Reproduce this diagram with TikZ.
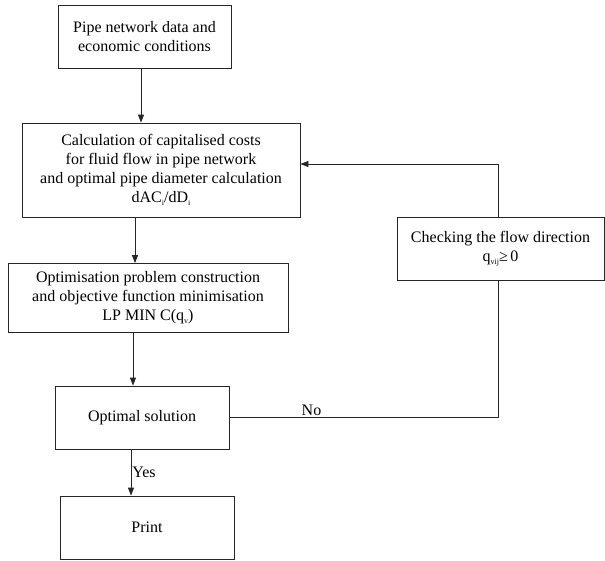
\documentclass[tikz,border=0pt]{standalone}
\usepackage{fontspec}
\setmainfont{Liberation Serif}
\usetikzlibrary{arrows.meta}
\newcommand{\mysub}[1]{\raisebox{-0.35ex}{\fontsize{8}{8}\selectfont #1}}
\begin{document}
\begin{tikzpicture}[x=1pt,y=-1pt,
  box/.style={draw=black!85, line width=0.8pt, inner sep=0pt, align=center,
    font=\fontsize{16}{19}\selectfont},
  arr/.style={draw=black!85, line width=0.8pt, -{Triangle[length=8pt,width=6pt]}},
  ln/.style={draw=black!85, line width=0.8pt},
  lbl/.style={font=\fontsize{16}{19}\selectfont, inner sep=1pt}]
\useasboundingbox (0,0) rectangle (605,560);
\node[box, minimum width=173pt, minimum height=63pt] (b1) at (144.5,36.5)
  {Pipe network data and\\economic conditions};
\node[box, minimum width=278pt, minimum height=94pt] (b2) at (161,170)
  {Calculation of capitalised costs\\for fluid flow in pipe network\\and optimal pipe diameter calculation\\dAC\mysub{i}/dD\mysub{i}};
\node[box, minimum width=280pt, minimum height=69pt] (b3) at (148,298)
  {Optimisation problem construction\\and objective function minimisation\\LP MIN C(q\mysub{v})};
\node[box, minimum width=174pt, minimum height=63pt] (b4) at (142,417.5)
  {Optimal solution};
\node[box, minimum width=174pt, minimum height=63pt] (b5) at (147,527.5)
  {Print};
\node[box, minimum width=207pt, minimum height=63pt] (chk) at (500.5,248.5)
  {Checking the flow direction\\q\mysub{vij}≥\,0};
\coordinate (cx) at (498.5,0);
\coordinate (top) at (0,164);
\draw[arr] ([xshift=-3.5pt]b1.south) coordinate (t1) -- (t1 |- b2.north);
\draw[arr] ([xshift=-26pt]b2.south) coordinate (t2) -- (t2 |- b3.north);
\draw[arr] ([xshift=-15pt]b3.south) coordinate (t3) -- (t3 |- b4.north);
\draw[arr] ([xshift=-11pt]b4.south) coordinate (t4) -- (t4 |- b5.north)
  node[lbl, pos=0.5, right] {Yes};
\draw[ln] ([yshift=0.5pt]b4.east) coordinate (t5) -- (t5 -| cx)
  node[lbl, pos=0.305, above] {No} -- (cx |- chk.south);
\draw[arr] (cx |- chk.north) -- (cx |- top) -- (top -| b2.east);
\end{tikzpicture}
\end{document}
